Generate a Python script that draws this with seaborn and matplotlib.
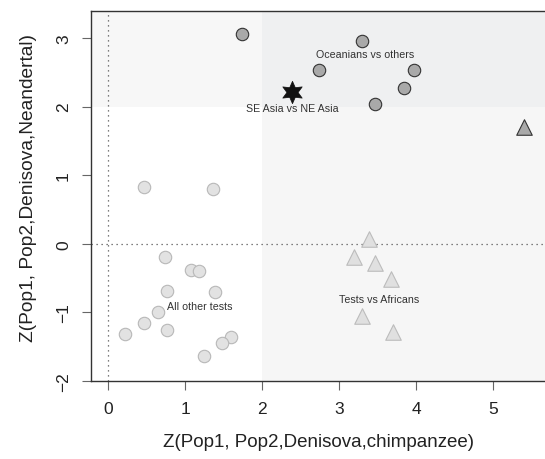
import pandas as pd
import matplotlib
matplotlib.use("Agg")
import matplotlib.pyplot as plt
import seaborn as sns

# Values
ocean_x = [1.73, 3.30, 2.74, 3.97, 3.84, 3.46]
ocean_y = [3.06, 2.96, 2.53, 2.53, 2.27, 2.03]

asia_x = [2.39]
asia_y = [2.21]

afr_top_x = [5.40]
afr_top_y = [1.70]

afr_x = [3.38, 3.19, 3.46, 3.67, 3.30, 3.70]
afr_y = [0.07, -0.19, -0.28, -0.52, -1.05, -1.29]

other_x = [0.46, 1.36, 0.73, 1.07, 1.18, 0.76, 1.39, 0.65, 0.46, 0.22, 0.76, 1.59, 1.48, 1.24]
other_y = [0.82, 0.80, -0.19, -0.38, -0.39, -0.69, -0.71, -1.00, -1.15, -1.32, -1.25, -1.36, -1.44, -1.64]

sns.set_style("white")
plt.rcParams["font.family"] = ["Liberation Sans", "DejaVu Sans"]

fig = plt.figure(figsize=(5.45, 4.6), dpi=100)
ax = fig.add_axes([0.167, 0.1696, 0.833, 0.804])

# shaded regions (Z > 2 on either axis)
ax.fill_between([2, 6], -3, 2, color="#f6f6f6", lw=0, zorder=0)
ax.fill_between([-1, 2], 2, 4, color="#f7f7f7", lw=0, zorder=0)
ax.fill_between([2, 6], 2, 4, color="#eff0f1", lw=0, zorder=0)
ax.axvline(0, color="#555555", ls=(0, (1, 3)), lw=0.9, zorder=1)
ax.axhline(0, color="#555555", ls=(0, (1, 3)), lw=0.9, zorder=1)

sns.scatterplot(x=other_x, y=other_y, ax=ax, marker="o", s=80,
                color="#e2e2e2", edgecolor="#b8b8b8", linewidth=0.8, zorder=3)
sns.scatterplot(x=afr_x, y=afr_y, ax=ax, marker="^", s=125,
                color="#e0e0e0", edgecolor="#bcbcbc", linewidth=0.8, zorder=3)
sns.scatterplot(x=ocean_x, y=ocean_y, ax=ax, marker="o", s=80,
                color="#a9a9a9", edgecolor="#333333", linewidth=0.8, zorder=3)
sns.scatterplot(x=afr_top_x, y=afr_top_y, ax=ax, marker="^", s=125,
                color="#a9a9a9", edgecolor="#333333", linewidth=0.8, zorder=3)
sns.scatterplot(x=asia_x, y=asia_y, ax=ax, marker=(6, 1, 0), s=260,
                color="#111111", edgecolor="#111111", linewidth=0.5, zorder=4)

tkw = dict(fontsize=7.7, color="#333333", ha="center", va="center", zorder=5)
ax.text(3.34, 2.77, "Oceanians vs others", **tkw)
ax.text(2.39, 1.98, "SE Asia vs NE Asia", **tkw)
ax.text(1.19, -0.90, "All other tests", **tkw)
ax.text(3.51, -0.80, "Tests vs Africans", **tkw)

ax.set_xlim(-0.225, 5.67)
ax.set_ylim(-2.0, 3.39)
ax.set_xticks([0, 1, 2, 3, 4, 5])
ax.set_yticks([-2, -1, 0, 1, 2, 3])
ax.tick_params(direction="out", length=6.5, width=0.8, color="#666666",
               labelsize=12.5, labelcolor="#222222", pad=8, left=True, bottom=True)
for lab in ax.get_yticklabels():
    lab.set_rotation(90)
    lab.set_va("center")
for side in ["left", "bottom", "top"]:
    ax.spines[side].set_color("#333333")
    ax.spines[side].set_linewidth(1.0)
ax.spines["right"].set_visible(False)

ax.set_xlabel("Z(Pop1, Pop2,Denisova,chimpanzee)", fontsize=13.5, color="#222222", labelpad=12)
ax.set_ylabel("Z(Pop1, Pop2,Denisova,Neandertal)", fontsize=13.8, color="#222222")
ax.yaxis.set_label_coords(-0.12, 0.525)

fig.savefig("out.png", dpi=100)
